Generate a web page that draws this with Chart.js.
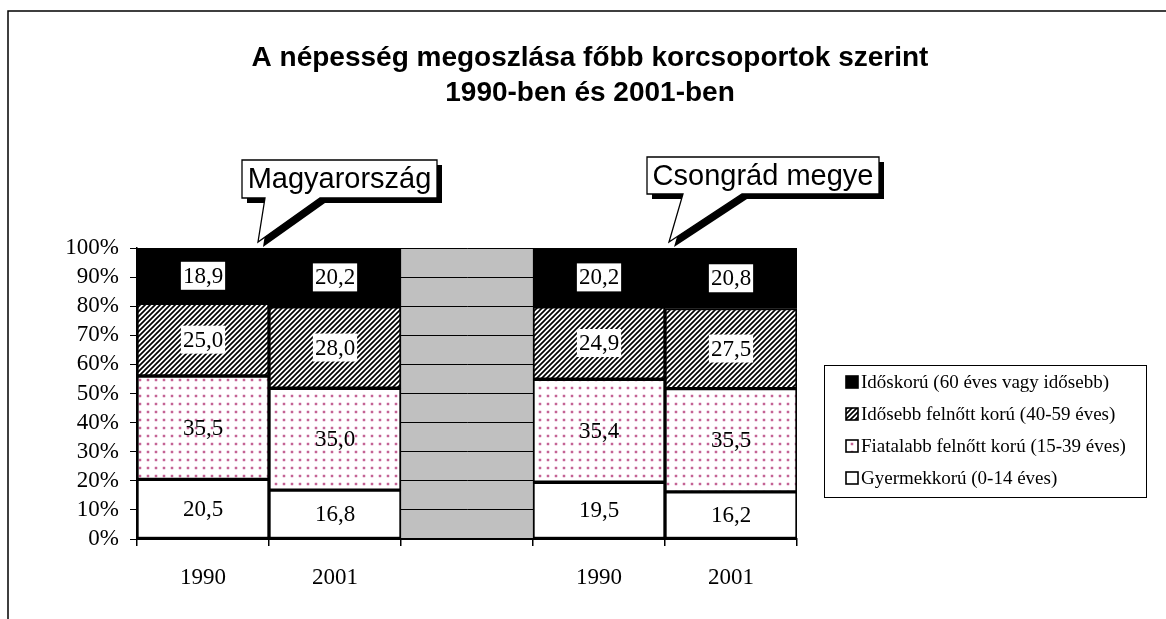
<!DOCTYPE html>
<html>
<head>
<meta charset="utf-8">
<script src="https://cdn.jsdelivr.net/npm/chart.js@4/dist/chart.umd.min.js"></script>
<style>
    html, body { margin: 0; padding: 0; background: #fff; }
    #wrap { width: 1166px; height: 619px; }
</style>
</head>
<body>
<div id="wrap"><canvas id="chart" width="1166" height="619"></canvas></div>
<script>
// Chart data
const categories = ['1990', '2001', '', '1990', '2001'];
const seriesNames = [
    'Gyermekkorú (0-14 éves)',
    'Fiatalabb felnőtt korú (15-39 éves)',
    'Idősebb felnőtt korú (40-59 éves)',
    'Időskorú (60 éves vagy idősebb)'
];
const gyermekkoru = [20.5, 16.8, null, 19.5, 16.2];
const fiatalabbFelnott = [35.5, 35.0, null, 35.4, 35.5];
const idosebbFelnott = [25.0, 28.0, null, 24.9, 27.5];
const idoskoru = [18.9, 20.2, null, 20.2, 20.8];
const titleLines = ['A népesség megoszlása főbb korcsoportok szerint', '1990-ben és 2001-ben'];
const callouts = ['Magyarország', 'Csongrád megye'];

const SERIF = '"Liberation Serif", "Times New Roman", serif';
const SANS = '"Liberation Sans", Arial, sans-serif';

// Fill patterns like the old Excel ones
function dotPattern() {
    const c = document.createElement('canvas');
    c.width = 8; c.height = 8;
    const g = c.getContext('2d');
    g.fillStyle = '#ffffff';
    g.fillRect(0, 0, 8, 8);
    g.fillStyle = 'rgba(200, 110, 160, 0.45)';
    g.beginPath(); g.arc(4, 4, 1.8, 0, Math.PI * 2); g.fill();
    g.fillStyle = '#b9457f';
    g.beginPath(); g.arc(4, 4, 1.0, 0, Math.PI * 2); g.fill();
    return g.createPattern(c, 'repeat');
}

function hatchPattern() {
    const c = document.createElement('canvas');
    c.width = 5; c.height = 5;
    const g = c.getContext('2d');
    g.fillStyle = '#ffffff';
    g.fillRect(0, 0, 5, 5);
    g.strokeStyle = '#000000';
    g.lineWidth = 1.7;
    g.beginPath();
    g.moveTo(-1, 6); g.lineTo(6, -1);
    g.moveTo(-1, 1); g.lineTo(1, -1);
    g.moveTo(4, 6); g.lineTo(6, 4);
    g.stroke();
    return g.createPattern(c, 'repeat');
}

const ctx = document.getElementById('chart').getContext('2d');
const fills = ['#ffffff', dotPattern(), hatchPattern(), '#000000'];
const seriesValues = [gyermekkoru, fiatalabbFelnott, idosebbFelnott, idoskoru];

// Gray plot area behind the bars
const plotBackground = {
    id: 'plotBackground',
    beforeDraw(chart) {
        const a = chart.chartArea;
        const c = chart.ctx;
        c.save();
        c.fillStyle = '#ffffff';
        c.fillRect(0, 0, chart.width, chart.height);
        c.fillStyle = '#c0c0c0';
        c.fillRect(a.left, a.top, a.right - a.left, a.bottom - a.top);
        c.restore();
    }
};

// Value labels inside each segment
const segmentLabels = {
    id: 'segmentLabels',
    afterDatasetsDraw(chart) {
        const c = chart.ctx;
        c.save();
        c.font = '23px ' + SERIF;
        c.textAlign = 'center';
        c.textBaseline = 'middle';
        chart.data.datasets.forEach((ds, i) => {
            chart.getDatasetMeta(i).data.forEach((bar, j) => {
                const v = ds.data[j];
                if (v === null) return;
                const txt = v.toFixed(1).replace('.', ',');
                const cx = bar.x;
                const cy = (bar.y + bar.base) / 2;
                if (i >= 2) {
                    const w = c.measureText(txt).width + 4;
                    c.fillStyle = '#ffffff';
                    c.fillRect(cx - w / 2, cy - 14, w, 28);
                }
                c.fillStyle = '#000000';
                c.fillText(txt, cx, cy + 1);
            });
        });
        c.restore();
    }
};

function drawCallout(c, text, box, ptr) {
    const shape = (dx, dy) => {
        c.beginPath();
        c.moveTo(box.x + dx, box.y + dy);
        c.lineTo(box.x + box.w + dx, box.y + dy);
        c.lineTo(box.x + box.w + dx, box.y + box.h + dy);
        c.lineTo(ptr.b2 + dx, box.y + box.h + dy);
        c.lineTo(ptr.tx + dx, ptr.ty + dy);
        c.lineTo(ptr.b1 + dx, box.y + box.h + dy);
        c.lineTo(box.x + dx, box.y + box.h + dy);
        c.closePath();
    };
    c.fillStyle = '#000000';
    shape(5, 5);
    c.fill();
    shape(0, 0);
    c.fillStyle = '#ffffff';
    c.fill();
    c.strokeStyle = '#000000';
    c.lineWidth = 1.3;
    c.stroke();
    c.fillStyle = '#000000';
    c.font = '29px ' + SANS;
    c.textAlign = 'center';
    c.textBaseline = 'middle';
    c.fillText(text, box.x + box.w / 2, box.y + box.h / 2 + 1);
}

// Title, frame, callouts and legend
const decorations = {
    id: 'decorations',
    afterDraw(chart) {
        const c = chart.ctx;
        c.save();
        // outer frame (top and left edge only visible)
        c.strokeStyle = '#000000';
        c.lineWidth = 1.5;
        c.beginPath();
        c.moveTo(1166, 11);
        c.lineTo(8, 11);
        c.lineTo(8, 619);
        c.stroke();

        // title
        c.fillStyle = '#000000';
        c.font = 'bold 28px ' + SANS;
        c.textAlign = 'center';
        c.textBaseline = 'middle';
        c.fillText(titleLines[0], 590, 58);
        c.fillText(titleLines[1], 590, 93);

        drawCallout(c, callouts[0], { x: 242, y: 160, w: 195, h: 38 }, { b1: 265, b2: 320, tx: 258, ty: 242 });
        drawCallout(c, callouts[1], { x: 647, y: 157, w: 232, h: 37 }, { b1: 683, b2: 742, tx: 669, ty: 242 });

        // legend
        c.lineWidth = 1;
        c.strokeRect(824.5, 365.5, 322, 132);
        c.font = '19px ' + SERIF;
        c.textAlign = 'left';
        c.textBaseline = 'middle';
        const n = chart.data.datasets.length;
        for (let k = 0; k < n; k++) {
            const ds = chart.data.datasets[n - 1 - k];
            const y = 382 + k * 32;
            c.fillStyle = ds.backgroundColor;
            c.fillRect(846, y - 6, 12, 12);
            c.lineWidth = 1.6;
            c.strokeStyle = '#000000';
            c.strokeRect(846, y - 6, 12, 12);
            c.fillStyle = '#000000';
            c.fillText(ds.label, 861, y + 1);
        }
        c.restore();
    }
};

const datasets = seriesNames.map((name, i) => ({
    label: name,
    data: seriesValues[i],
    backgroundColor: fills[i],
    borderColor: '#000000',
    borderWidth: 2,
    borderSkipped: false,
    categoryPercentage: 1.0,
    barPercentage: 1.0
}));

new Chart(ctx, {
    type: 'bar',
    data: { labels: categories, datasets: datasets },
    options: {
        responsive: false,
        animation: false,
        events: [],
        layout: { padding: { left: 37, right: 369, top: 248, bottom: 0 } },
        scales: {
            x: {
                stacked: true,
                afterFit: (scale) => { scale.height = 80; },
                grid: {
                    offset: true,
                    drawOnChartArea: false,
                    color: '#000000',
                    tickLength: 7,
                    lineWidth: 1.5
                },
                border: { color: '#000000', width: 2 },
                ticks: {
                    color: '#000000',
                    padding: 18,
                    font: { family: SERIF, size: 23 }
                }
            },
            y: {
                stacked: true,
                min: 0,
                max: 100,
                afterFit: (scale) => { scale.width = 100; },
                grid: {
                    color: '#000000',
                    lineWidth: 1,
                    tickLength: 7
                },
                border: { color: '#000000', width: 1.5 },
                ticks: {
                    stepSize: 10,
                    autoSkip: false,
                    color: '#000000',
                    padding: 11,
                    font: { family: SERIF, size: 23 },
                    callback: (v) => v + '%'
                }
            }
        },
        plugins: {
            legend: { display: false },
            tooltip: { enabled: false },
            title: { display: false }
        }
    },
    plugins: [plotBackground, segmentLabels, decorations]
});
</script>
</body>
</html>
